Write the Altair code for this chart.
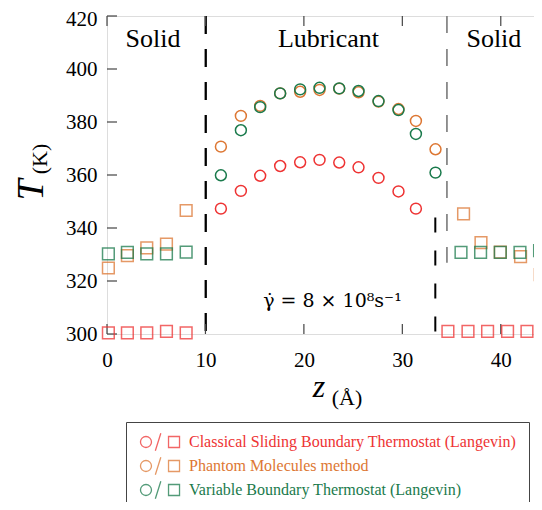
import altair as alt
import pandas as pd

# ---------------- data ----------------
methods = [
    "Classical Sliding Boundary Thermostat (Langevin)",
    "Phantom Molecules method",
    "Variable Boundary Thermostat (Langevin)",
]
colors = ["#EE3333", "#DD7733", "#1A7A4C"]

# lubricant region (circles)
z_circles = [11.57, 13.60, 15.56, 17.59, 19.62, 21.59, 23.59, 25.55, 27.58, 29.61, 31.38, 33.37]
T_circ_classical = [347.3, 354.0, 359.7, 363.4, 364.8, 365.7, 364.7, 362.9, 358.9, 353.8, 347.3]
T_circ_phantom = [370.7, 382.3, 386.1, 390.8, 391.4, 392.1, 392.6, 391.2, 387.7, 384.9, 380.4, 369.7]
T_circ_variable = [359.9, 376.9, 385.6, 390.8, 392.3, 392.9, 392.7, 391.7, 387.9, 384.5, 375.5, 360.9]

# solid walls (squares)
z_sq_classical = [0.14, 2.07, 4.04, 6.04, 8.04, 34.63, 36.67, 38.66, 40.69, 42.66]
T_sq_classical = [300.4, 300.4, 300.4, 301.0, 300.4, 301.0, 301.0, 301.0, 301.0, 301.0]
z_sq_phantom = [0.14, 2.07, 4.04, 6.04, 8.04, 36.22, 37.99, 39.95, 42.01, 44.01]
T_sq_phantom = [324.9, 329.6, 332.5, 333.9, 346.6, 345.3, 334.5, 330.9, 329.2, 322.4]
z_sq_variable = [0.14, 2.07, 4.04, 6.04, 8.04, 35.96, 37.95, 39.95, 41.95, 43.94]
T_sq_variable = [330.2, 330.8, 330.2, 330.2, 330.9, 330.8, 330.8, 330.8, 330.8, 331.5]

# region labels
region_labels = ["Solid", "Lubricant", "Solid"]
region_z = [4.68, 22.5, 39.3]
region_T = [408.2, 408.2, 408.2]

# boundaries
wall_left_z = [10.03]
wall_right_black_z = [33.35]
wall_right_black_T = [344.0, 300.0]
wall_right_grey_z = [34.53]
wall_right_grey_T = [420.0, 326.9]

shear_text = ["γ̇   =   8   ×   10⁸s⁻¹"]
shear_z = [22.9]
shear_T = [310.2]

x_ticks = [0, 10, 20, 30, 40]
y_ticks = [300, 320, 340, 360, 380, 400, 420]

# ---------------- tables ----------------
rows = []
for m, zs, Ts in zip(methods, [z_circles, z_circles, z_circles],
                     [T_circ_classical, T_circ_phantom, T_circ_variable]):
    for z, T in zip(zs, Ts):
        rows.append({"method": m, "kind": "circle", "z": z, "T": T})
for m, zs, Ts in zip(methods, [z_sq_classical, z_sq_phantom, z_sq_variable],
                     [T_sq_classical, T_sq_phantom, T_sq_variable]):
    for z, T in zip(zs, Ts):
        rows.append({"method": m, "kind": "square", "z": z, "T": T})
df = pd.DataFrame(rows)
df["order"] = df["method"].map({m: i for i, m in enumerate(methods)})

W, H = 443, 318
FONT = "Liberation Serif"

xscale = alt.Scale(domain=[0, 45], nice=False, zero=False)
yscale = alt.Scale(domain=[300, 420], nice=False, zero=False)

x_axis = alt.Axis(
    values=x_ticks, ticks=False, domain=False, grid=False, title=None,
    labelFont=FONT, labelFontSize=21, labelColor="black", labelPadding=15,
    labelFlush=False, labelOverlap=False)
y_axis = alt.Axis(
    values=y_ticks, ticks=False, domain=False, grid=False, title=None,
    labelFont=FONT, labelFontSize=21, labelColor="black", labelPadding=10,
    labelFlush=False, labelOverlap=False,
    labelOffset={"condition": {"test": f"datum.value == {y_ticks[-1]}", "value": 3}, "value": 0})


def X(field):
    return alt.X(field, scale=xscale, axis=x_axis)


def Y(field):
    return alt.Y(field, scale=yscale, axis=y_axis)


legend_path = ("M -1.55 0 A 1 1 0 1 1 -3.55 0 A 1 1 0 1 1 -1.55 0 Z "
               "M -0.85 1.6 L 0.15 -1.6 "
               "M 1.55 -1 L 3.55 -1 L 3.55 1 L 1.55 1 Z")

color_enc = alt.Color(
    "method:N",
    scale=alt.Scale(domain=methods, range=colors),
    legend=alt.Legend(
        title=None, orient="none", legendX=19, legendY=406,
        symbolType=legend_path, symbolSize=121, symbolStrokeWidth=1.3,
        symbolFillColor="transparent",
        symbolOffset=14, labelOffset=21,
        labelFont=FONT, labelFontSize=16, labelLimit=0,
        labelColor={"expr": "scale('color', datum.value)"},
        padding=12, rowPadding=0, strokeColor="#444", fillColor="white",
    ),
)

base = alt.Chart(df)
squares = base.transform_filter(alt.datum.kind == "square").mark_point(
    shape="square", filled=False, size=137, strokeWidth=1.5, opacity=0.75
).encode(x=X("z:Q"), y=Y("T:Q"), color=color_enc, order="order:Q")
circles = base.transform_filter(alt.datum.kind == "circle").mark_point(
    shape="circle", filled=False, size=119, strokeWidth=1.5, opacity=1
).encode(x=X("z:Q"), y=Y("T:Q"), color=color_enc, order="order:Q")

# walls
left_wall = alt.Chart(pd.DataFrame({"z": wall_left_z, "Ta": [420.0], "Tb": [300.0]})).mark_rule(
    color="black", strokeWidth=2.3, strokeDash=[18, 15]
).encode(x=X("z:Q"), y=Y("Ta:Q"), y2="Tb:Q")
right_black = alt.Chart(pd.DataFrame({"z": wall_right_black_z, "Ta": [wall_right_black_T[0]],
                                      "Tb": [wall_right_black_T[1]]})).mark_rule(
    color="black", strokeWidth=2.0, strokeDash=[15, 18]
).encode(x=X("z:Q"), y=Y("Ta:Q"), y2="Tb:Q")
right_grey = alt.Chart(pd.DataFrame({"z": wall_right_grey_z, "Ta": [wall_right_grey_T[0]],
                                     "Tb": [wall_right_grey_T[1]]})).mark_rule(
    color="#888888", strokeWidth=1.8, strokeDash=[17, 16]
).encode(x=X("z:Q"), y=Y("Ta:Q"), y2="Tb:Q")

# inward ticks
xt = pd.DataFrame({"z": x_ticks})
yt = pd.DataFrame({"T": y_ticks})
tick_style = dict(color="#444444", strokeWidth=1.2)
ticks_bottom = alt.Chart(xt).mark_rule(**tick_style).encode(
    x=X("z:Q"), y=alt.value(H), y2=alt.value(H - 10))
ticks_top = alt.Chart(xt).mark_rule(**tick_style).encode(
    x=X("z:Q"), y=alt.value(0), y2=alt.value(10))
ticks_left = alt.Chart(yt).mark_rule(**tick_style).encode(
    y=Y("T:Q"), x=alt.value(0), x2=alt.value(10))
ticks_right = alt.Chart(yt).mark_rule(**tick_style).encode(
    y=Y("T:Q"), x=alt.value(W), x2=alt.value(W - 10))

# region labels
regions = alt.Chart(pd.DataFrame({"label": region_labels, "z": region_z, "T": region_T})).mark_text(
    font=FONT, fontSize=26, color="black", baseline="alphabetic", align="center"
).encode(x=X("z:Q"), y=Y("T:Q"), text="label:N")

shear = alt.Chart(pd.DataFrame({"label": shear_text, "z": shear_z, "T": shear_T})).mark_text(
    font="DejaVu Serif", fontSize=19, color="black", baseline="alphabetic", align="center"
).encode(x=X("z:Q"), y=Y("T:Q"), text="label:N")

# axis titles (letter + subscript unit)
x_title = alt.Chart(pd.DataFrame({"t": ["z"]})).mark_text(
    font=FONT, fontSize=32, fontStyle="italic", color="black", align="center", baseline="alphabetic"
).encode(text="t:N", x=alt.value(212), y=alt.value(381))
x_unit = alt.Chart(pd.DataFrame({"t": ["(Å)"]})).mark_text(
    font=FONT, fontSize=22, color="black", align="center", baseline="alphabetic"
).encode(text="t:N", x=alt.value(240), y=alt.value(389))
y_title = alt.Chart(pd.DataFrame({"t": ["T"]})).mark_text(
    font=FONT, fontSize=38, fontStyle="italic", color="black", align="center",
    baseline="alphabetic", angle=270
).encode(text="t:N", x=alt.value(-64), y=alt.value(174))
y_unit = alt.Chart(pd.DataFrame({"t": ["(K)"]})).mark_text(
    font=FONT, fontSize=22, color="black", align="center", baseline="alphabetic", angle=270
).encode(text="t:N", x=alt.value(-60), y=alt.value(143))

chart = alt.layer(
    left_wall, right_black, right_grey,
    ticks_bottom, ticks_top, ticks_left, ticks_right,
    squares, circles, regions, shear,
    x_title, x_unit, y_title, y_unit,
).properties(
    width=W, height=H,
    autosize=alt.AutoSizeParams(type="none"),
    padding={"left": 99, "top": 8, "right": -16, "bottom": 168},
).configure_view(
    stroke="#444444", strokeWidth=1.2
).configure(background="white")

chart.save("out.html", embed_options={"renderer": "svg", "actions": False})
